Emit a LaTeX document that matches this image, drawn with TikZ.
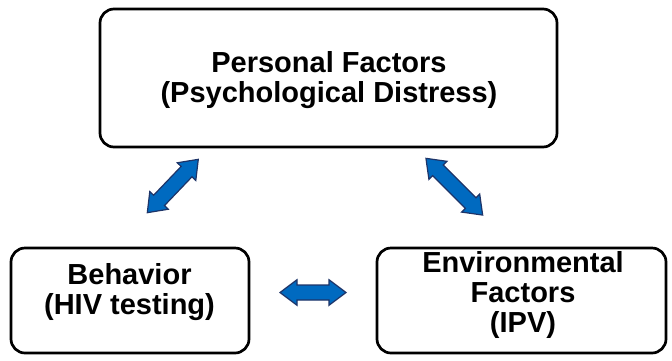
\documentclass[tikz,border=0pt]{standalone}
\usepackage{fontspec}
\setmainfont{Liberation Sans}
\definecolor{arrowfill}{RGB}{0,106,192}
\definecolor{arrowline}{RGB}{30,52,104}
\tikzset{
  factorbox/.style={draw=black, line width=2.7pt, rounded corners=14pt, fill=white,
    inner sep=0pt},
  factortext/.style={align=center, inner sep=0pt,
    font=\fontsize{29}{30}\selectfont\bfseries},
  link/.style={draw=arrowline, fill=arrowfill, line width=1.2pt, line join=miter},
  % two-headed block arrow along the local x axis; the value is its length
  pics/twoway/.style={code={
    \pgfmathsetmacro\halflen{#1/2}
    \pgfmathsetmacro\neck{#1/2-17}
    \path[link] (-\halflen,0) -- (-\neck,12.8) -- (-\neck,7.5) -- (\neck,7.5)
      -- (\neck,12.8) -- (\halflen,0) -- (\neck,-12.8) -- (\neck,-7.5)
      -- (-\neck,-7.5) -- (-\neck,-12.8) -- cycle;
  }}
}
\begin{document}
\begin{tikzpicture}[x=1pt,y=-1pt]
  \useasboundingbox (0,0) rectangle (672,360);
  % the three factor boxes
  \node[factorbox, minimum width=457pt, minimum height=138pt] (personal) at (328.5,78) {};
  \node[factorbox, minimum width=238pt, minimum height=105pt] (behavior) at (130,300.5) {};
  \node[factorbox, minimum width=289pt, minimum height=105pt] (environment) at (521.5,300.5) {};
  % their labels
  \node[factortext] (personal label) at (329,80) {Personal Factors\\(Psychological Distress)};
  \node[factortext] (behavior label) at (129.5,292.5) {Behavior\\(HIV testing)};
  \node[factortext] (environment label) at (523,295) {Environmental\\Factors\\(IPV)};
  % reciprocal influences
  \pic (personal-behavior) at (172.8,186) [rotate=46.3] {twoway=73.8};
  \pic (personal-environment) at (454.3,186.7) [rotate=-45] {twoway=80.2};
  \pic (behavior-environment) at (313,292.5) {twoway=66};
\end{tikzpicture}
\end{document}
